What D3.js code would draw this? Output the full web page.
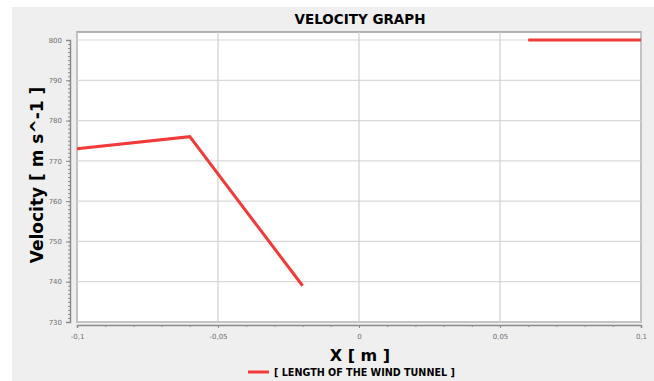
<html>
<script src="https://d3js.org/d3.v7.min.js"></script>
<style>
body { margin: 0; background: #fff; }
</style>
<body>
<div id="chart"></div>
<script>
// data
var seg1X = [-0.1, -0.06, -0.02];
var seg1Y = [773, 776, 739];
var seg2X = [0.06, 0.1];
var seg2Y = [800, 800];
var xTicks = [-0.1, -0.05, 0, 0.05, 0.1];
var xTickLabels = ["-0,1", "-0,05", "0", "0,05", "0,1"];
var yTicks = [730, 740, 750, 760, 770, 780, 790, 800];
var legendLabel = "[ LENGTH OF THE WIND TUNNEL ]";

var W = 654, H = 381;
var plot = {left: 77, right: 641, top: 32, bottom: 322};

var svg = d3.select("#chart").append("svg")
    .attr("width", W).attr("height", H);

// gray panel
svg.append("rect").attr("x", 12).attr("y", 7).attr("width", W - 12).attr("height", H - 7)
    .attr("fill", "#efefef");

var x = d3.scaleLinear().domain([-0.1, 0.1]).range([plot.left, plot.right]);
var y = d3.scaleLinear().domain([730, 800]).range([plot.bottom, 40]);

// plot area
svg.append("rect").attr("x", plot.left).attr("y", plot.top)
    .attr("width", plot.right - plot.left).attr("height", plot.bottom - plot.top)
    .attr("fill", "#fff").attr("stroke", "#9a9a9a").attr("stroke-width", 1.5);

// grid
svg.append("g").selectAll("line").data(yTicks).enter().append("line")
    .attr("x1", plot.left).attr("x2", plot.right)
    .attr("y1", function(d){ return y(d); }).attr("y2", function(d){ return y(d); })
    .attr("stroke", "#d9d9d9").attr("stroke-width", 1.2);
svg.append("g").selectAll("line").data(xTicks).enter().append("line")
    .attr("y1", plot.top).attr("y2", plot.bottom)
    .attr("x1", function(d){ return x(d); }).attr("x2", function(d){ return x(d); })
    .attr("stroke", "#cfcfcf").attr("stroke-width", 1.2);

// y axis
svg.append("g").attr("transform", "translate(70,0)")
    .call(d3.axisLeft(y).tickValues(yTicks).tickSize(4).tickPadding(4).tickFormat(d3.format("d")));
var yMinor = svg.append("g").attr("transform", "translate(70,0)")
    .call(d3.axisLeft(y).ticks(70).tickSize(2).tickFormat(""));
yMinor.select(".domain").remove();

// x axis
svg.append("g").attr("transform", "translate(0,325)")
    .call(d3.axisBottom(x).tickValues(xTicks).tickSize(3).tickPadding(6)
        .tickFormat(function(d, i){ return xTickLabels[i]; }));
var xMinor = svg.append("g").attr("transform", "translate(0,325)")
    .call(d3.axisBottom(x).ticks(20).tickSize(2).tickFormat(""));
xMinor.select(".domain").remove();

svg.selectAll(".domain").attr("stroke", "#8a8a8a").attr("stroke-width", 1.5);
svg.selectAll(".tick line").attr("stroke", "#8a8a8a");
svg.selectAll(".tick text").attr("fill", "#6f6f6f").style("font-family", "DejaVu Sans")
    .style("font-size", "7px");

// lines
var line = d3.line().x(function(d){ return x(d[0]); }).y(function(d){ return y(d[1]); });
var segs = [d3.zip(seg1X, seg1Y), d3.zip(seg2X, seg2Y)];
svg.append("g").selectAll("path").data(segs).enter().append("path")
    .attr("d", line).attr("fill", "none").attr("stroke", "#f23a3a").attr("stroke-width", 3);

// titles
svg.append("text").attr("x", 360).attr("y", 24).attr("text-anchor", "middle")
    .style("font-family", "DejaVu Sans").style("font-weight", "bold").style("font-size", "13.5px")
    .text("VELOCITY GRAPH");
svg.append("text").attr("transform", "translate(43,175) rotate(-90)").attr("text-anchor", "middle")
    .style("font-family", "DejaVu Sans").style("font-weight", "bold").style("font-size", "17px")
    .text("Velocity [ m s^-1 ]");
svg.append("text").attr("x", 360).attr("y", 361).attr("text-anchor", "middle")
    .style("font-family", "DejaVu Sans").style("font-weight", "bold").style("font-size", "16px")
    .text("X [ m ]");

// legend
svg.append("line").attr("x1", 248).attr("x2", 269).attr("y1", 372).attr("y2", 372)
    .attr("stroke", "#f23a3a").attr("stroke-width", 3);
svg.append("text").attr("x", 274).attr("y", 376)
    .style("font-family", "DejaVu Sans").style("font-weight", "bold").style("font-size", "9.6px")
    .text(legendLabel);
</script>
</body>
</html>
